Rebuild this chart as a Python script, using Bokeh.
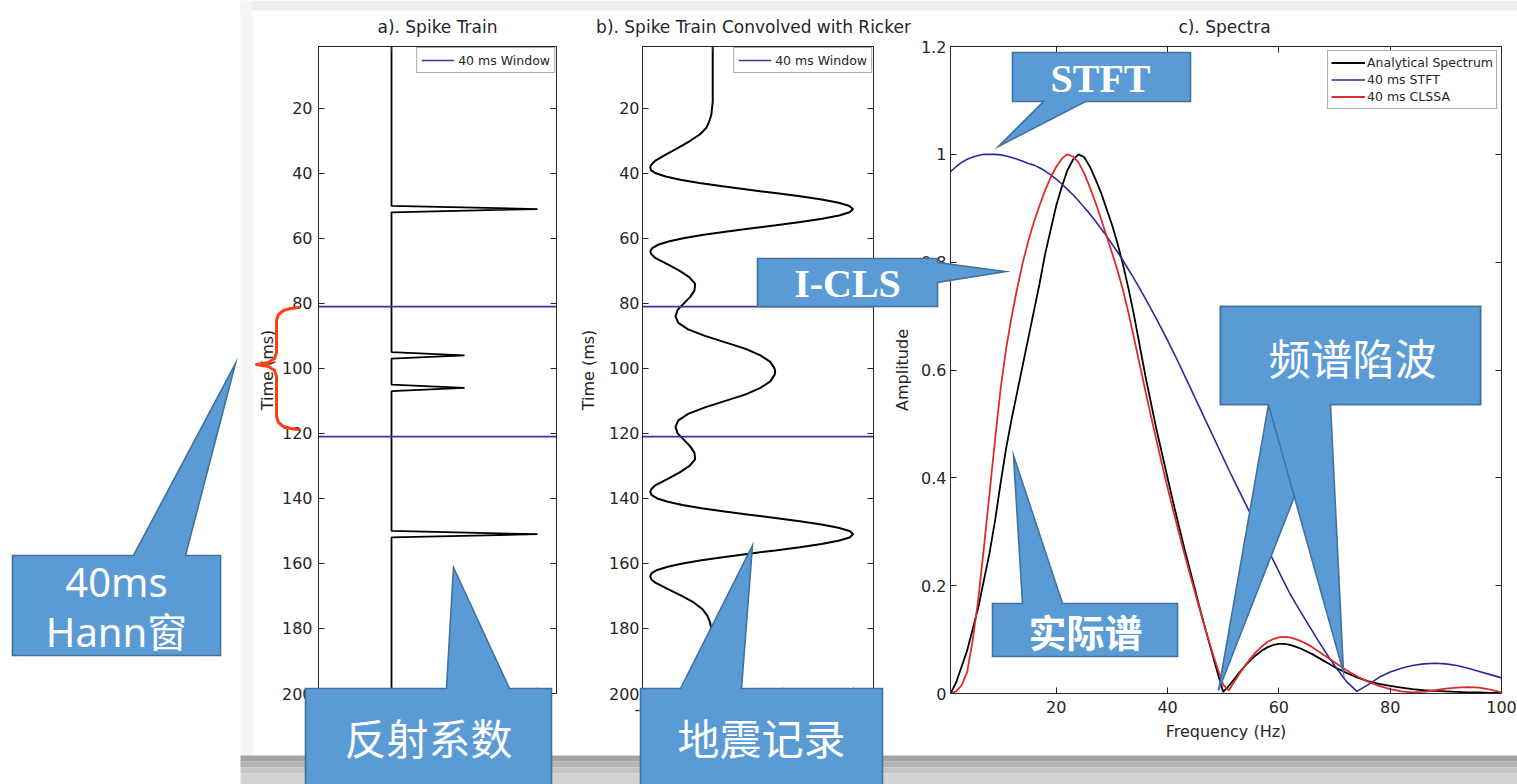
from bokeh.plotting import figure
from bokeh.layouts import row, column
from bokeh.core.properties import value
from bokeh.models import Range1d, LinearAxis, FixedTicker, Legend, LegendItem
from bokeh.embed import file_html
from bokeh.resources import INLINE

# ---------------------------------------------------------------- data
# a) reflectivity spikes (time in ms, amplitude)
spike_times_ms = [51, 96, 106, 151]
spike_amps = [2.0, 1.0, 1.0, 2.0]
record_ms = list(range(1, 201))
window_edges_ms = [81, 121]

# b) spike train convolved with a Ricker wavelet
seis_time_ms = [1, 18, 20, 22, 24, 26, 28, 30, 32, 34, 36, 37, 38, 39, 40, 41, 42, 43,
                44, 45, 46, 47, 48, 49, 50, 51, 52, 53, 54, 55, 56, 57, 58, 59, 60, 61,
                62, 63, 64, 65, 66, 68, 70, 72, 74, 76, 78, 80, 82, 84, 86, 88, 90, 92,
                94, 96, 98, 100, 101, 102, 104, 106, 108, 110, 112, 114, 116, 118, 120,
                122, 124, 126, 128, 130, 132, 134, 136, 137, 138, 139, 140, 141, 142,
                143, 144, 145, 146, 147, 148, 149, 150, 151, 152, 153, 154, 155, 156,
                157, 158, 159, 160, 161, 162, 163, 164, 165, 166, 168, 170, 172, 174,
                176, 178, 180, 182, 184, 200]
seis_amp = [0, 0, -0.01, -0.02, -0.05, -0.09, -0.18, -0.32, -0.48, -0.65, -0.81, -0.86,
            -0.89, -0.88, -0.81, -0.67, -0.46, -0.19, 0.14, 0.49, 0.86, 1.22, 1.53, 1.78,
            1.94, 2.00, 1.95, 1.80, 1.56, 1.25, 0.90, 0.53, 0.18, -0.15, -0.42, -0.63,
            -0.78, -0.86, -0.89, -0.87, -0.82, -0.64, -0.47, -0.33, -0.25, -0.26, -0.32,
            -0.41, -0.50, -0.53, -0.49, -0.35, -0.11, 0.18, 0.47, 0.68, 0.82, 0.88, 0.89,
            0.88, 0.82, 0.68, 0.47, 0.18, -0.11, -0.35, -0.49, -0.53, -0.50, -0.41, -0.32,
            -0.26, -0.25, -0.33, -0.47, -0.64, -0.82, -0.87, -0.89, -0.87, -0.79, -0.64,
            -0.43, -0.16, 0.17, 0.52, 0.89, 1.24, 1.55, 1.79, 1.95, 2.00, 1.95, 1.79, 1.55,
            1.24, 0.89, 0.52, 0.17, -0.16, -0.43, -0.64, -0.79, -0.87, -0.89, -0.87, -0.81,
            -0.63, -0.44, -0.27, -0.15, -0.08, -0.04, -0.02, -0.01, 0, 0]

# c) amplitude spectra of the 40 ms window
freq_hz = list(range(1, 71)) + list(range(72, 101, 2))
spec_analytical = [0.000, 0.020, 0.050, 0.080, 0.120, 0.160, 0.210, 0.260, 0.320, 0.390,
                   0.455, 0.510, 0.560, 0.610, 0.660, 0.710, 0.760, 0.815, 0.860, 0.905,
                   0.940, 0.970, 0.990, 1.000, 0.995, 0.978, 0.955, 0.930, 0.900, 0.870,
                   0.835, 0.795, 0.750, 0.700, 0.645, 0.590, 0.540, 0.490, 0.445, 0.400,
                   0.355, 0.312, 0.270, 0.230, 0.190, 0.150, 0.112, 0.075, 0.038, 0.003,
                   0.014, 0.027, 0.040, 0.052, 0.063, 0.072, 0.080, 0.086, 0.090, 0.092,
                   0.092, 0.090, 0.087, 0.083, 0.078, 0.073, 0.067, 0.061, 0.055, 0.049,
                   0.039, 0.030, 0.023, 0.018, 0.014, 0.011, 0.008, 0.006, 0.005, 0.004,
                   0.003, 0.002, 0.002, 0.001, 0.001]
spec_stft = [0.968, 0.977, 0.985, 0.991, 0.995, 0.998, 1.000, 1.000, 1.000, 0.999,
             0.997, 0.994, 0.991, 0.987, 0.983, 0.980, 0.975, 0.969, 0.962, 0.954,
             0.945, 0.935, 0.925, 0.914, 0.902, 0.890, 0.877, 0.863, 0.849, 0.834,
             0.819, 0.803, 0.786, 0.769, 0.751, 0.733, 0.714, 0.695, 0.675, 0.655,
             0.634, 0.613, 0.591, 0.569, 0.547, 0.525, 0.503, 0.481, 0.459, 0.437,
             0.415, 0.394, 0.373, 0.352, 0.331, 0.310, 0.289, 0.268, 0.247, 0.226,
             0.205, 0.185, 0.167, 0.150, 0.133, 0.116, 0.099, 0.083, 0.067, 0.052,
             0.024, 0.004, 0.016, 0.030, 0.040, 0.047, 0.052, 0.055, 0.056, 0.055,
             0.052, 0.047, 0.041, 0.035, 0.029]
spec_clssa = [0.000, 0.004, 0.015, 0.040, 0.100, 0.175, 0.270, 0.370, 0.470, 0.565,
              0.640, 0.700, 0.752, 0.800, 0.840, 0.875, 0.905, 0.933, 0.957, 0.977,
              0.992, 1.000, 0.996, 0.985, 0.965, 0.940, 0.912, 0.882, 0.850, 0.818,
              0.785, 0.748, 0.705, 0.658, 0.610, 0.562, 0.515, 0.470, 0.425, 0.382,
              0.340, 0.300, 0.260, 0.222, 0.185, 0.148, 0.112, 0.078, 0.046, 0.016,
              0.006, 0.022, 0.038, 0.053, 0.066, 0.078, 0.088, 0.096, 0.101, 0.104,
              0.105, 0.104, 0.101, 0.097, 0.092, 0.086, 0.079, 0.072, 0.065, 0.058,
              0.044, 0.032, 0.022, 0.014, 0.008, 0.004, 0.002, 0.003, 0.006, 0.009,
              0.011, 0.012, 0.011, 0.007, 0.002]
spec_labels = ["Analytical Spectrum", "40 ms STFT", "40 ms CLSSA"]

time_ticks = [20, 40, 60, 80, 100, 120, 140, 160, 180, 200]
trace_ticks = [-1, 0, 1, 2]
freq_ticks = [20, 40, 60, 80, 100]
amp_ticks = [0, 0.2, 0.4, 0.6, 0.8, 1.0, 1.2]

panel_titles = ["a). Spike Train", "b). Spike Train Convolved with Ricker", "c). Spectra"]

# ---------------------------------------------------------------- style
W, H = 1517, 784
INK = "#262626"
FONT = "DejaVu Sans"
WIN_COLOR = "#3B35A3"
STFT_COLOR = "#2A2A9E"
CLSSA_COLOR = "#E02A2A"
CALLOUT_FILL = "#5B9BD5"
CALLOUT_EDGE = "#41719C"
BRACE_COLOR = "#FF3D12"
CJK = "Noto Sans CJK SC"
SERIF = "Liberation Serif"

W_A, W_B, W_C = 575, 315, 627


def make_panel(width, borders, x_range, y_range):
    left, right, top, bottom = borders
    p = figure(width=width, height=H, x_range=x_range, y_range=y_range, title=None,
               output_backend="svg", toolbar_location=None,
               min_border_left=left, min_border_right=right,
               min_border_top=top, min_border_bottom=bottom,
               background_fill_color="white", border_fill_color="white",
               outline_line_color=INK, outline_line_width=1)
    p.xgrid.visible = False
    p.ygrid.visible = False
    p.add_layout(LinearAxis(), "above")
    p.add_layout(LinearAxis(), "right")
    return p


def style_axis(ax, ticks, labels, standoff=5, label_standoff=8, overrides=None):
    ax.ticker = FixedTicker(ticks=ticks)
    ax.major_tick_in = 6
    ax.major_tick_out = 0
    ax.minor_tick_line_color = None
    ax.axis_line_color = INK
    ax.major_tick_line_color = INK
    ax.major_label_text_font = FONT
    if labels:
        ax.major_label_text_font_size = "16px"
        ax.major_label_text_color = INK
        ax.major_label_standoff = standoff
    else:
        ax.major_label_text_font_size = "0px"
        ax.major_label_text_color = None
        ax.major_label_standoff = 0
    if overrides:
        ax.major_label_overrides = overrides
    ax.axis_label_text_font = FONT
    ax.axis_label_text_font_size = "16px"
    ax.axis_label_text_font_style = "normal"
    ax.axis_label_text_color = INK
    ax.axis_label_standoff = label_standoff


def style_legend(leg, margin):
    leg.location = "top_right"
    leg.margin = margin
    leg.padding = 4
    leg.spacing = 0
    leg.glyph_width = 33
    leg.glyph_height = 16
    leg.label_height = 16
    leg.label_standoff = 4
    leg.label_text_font = FONT
    leg.label_text_font_size = "12.5px"
    leg.label_text_color = INK
    leg.border_line_color = "#555555"
    leg.border_line_width = 1
    leg.background_fill_color = "white"
    leg.background_fill_alpha = 1


hyphen_labels = {-1: "-1"}

# ---------------------------------------------------------------- panel a
xa = Range1d(-1, 2.26)
pa = make_panel(W_A, (318, 19, 44, 91), xa, Range1d(200, 1))
style_axis(pa.below[0], trace_ticks, True, standoff=9, overrides=hyphen_labels)
style_axis(pa.left[0], time_ticks, True, standoff=6, label_standoff=2)
style_axis(pa.above[0], trace_ticks, False)
style_axis(pa.right[0], time_ticks, False)
pa.left[0].axis_label = "Time (ms)"

spike_lookup = dict(zip(spike_times_ms, spike_amps))
refl_amp = [spike_lookup.get(t, 0.0) for t in record_ms]
pa.line(refl_amp, record_ms, line_color="black", line_width=1.8)
win_a = pa.multi_line(xs=[[xa.start, xa.end] for _ in window_edges_ms],
                      ys=[[e, e] for e in window_edges_ms],
                      line_color=WIN_COLOR, line_width=1.6)
leg_a = Legend(items=[LegendItem(label="40 ms Window", renderers=[win_a])])
style_legend(leg_a, 1)
pa.add_layout(leg_a)

# ---------------------------------------------------------------- panel b
xb = Range1d(-1, 2.29)
pb = make_panel(W_B, (58, 17, 44, 91), xb, Range1d(200, 1))
style_axis(pb.below[0], trace_ticks, True, standoff=9, overrides=hyphen_labels)
style_axis(pb.left[0], time_ticks, True, standoff=3, label_standoff=8)
style_axis(pb.above[0], trace_ticks, False)
style_axis(pb.right[0], time_ticks, False)
pb.left[0].axis_label = "Time (ms)"

n_b = min(len(seis_time_ms), len(seis_amp))
pb.line(seis_amp[:n_b], seis_time_ms[:n_b], line_color="black", line_width=2)
win_b = pb.multi_line(xs=[[xb.start, xb.end] for _ in window_edges_ms],
                      ys=[[e, e] for e in window_edges_ms],
                      line_color=WIN_COLOR, line_width=1.6)
leg_b = Legend(items=[LegendItem(label="40 ms Window", renderers=[win_b])])
style_legend(leg_b, 1)
pb.add_layout(leg_b)

# ---------------------------------------------------------------- panel c
pc = make_panel(W_C, (58, 16, 46, 89), Range1d(1, 100), Range1d(0, 1.2))
style_axis(pc.below[0], freq_ticks, True, standoff=7, label_standoff=6)
style_axis(pc.left[0], amp_ticks, True, standoff=4, label_standoff=6,
           overrides={0: "0", 1: "1"})
style_axis(pc.above[0], freq_ticks, False)
style_axis(pc.right[0], amp_ticks, False)
pc.below[0].axis_label = "Frequency (Hz)"
pc.left[0].axis_label = "Amplitude"

n_c = len(freq_hz)
r_an = pc.line(freq_hz, spec_analytical[:n_c], line_color="black", line_width=1.8)
r_st = pc.line(freq_hz, spec_stft[:n_c], line_color=STFT_COLOR, line_width=1.6)
r_cl = pc.line(freq_hz, spec_clssa[:n_c], line_color=CLSSA_COLOR, line_width=1.8)
leg_c = Legend(items=[LegendItem(label=lab, renderers=[r])
                      for lab, r in zip(spec_labels, [r_an, r_st, r_cl])])
style_legend(leg_c, 4)
leg_c.padding = 3
leg_c.label_height = 17
leg_c.glyph_height = 17
leg_c.glyph_width = 34
leg_c.label_standoff = 2
pc.add_layout(leg_c)

# ---------------------------------------------------------------- overlay
# A transparent page-sized figure laid over the three panels; its ranges are
# in page pixels (y downwards) and it carries titles, page shading and callouts.
ov = figure(width=W, height=H, x_range=Range1d(0, W), y_range=Range1d(H, 0),
            title=None, output_backend="svg", toolbar_location=None,
            x_axis_type=None, y_axis_type=None, min_border=0,
            background_fill_alpha=0, border_fill_alpha=0, outline_line_color=None)
ov.styles = {"margin-top": f"-{H}px", "position": "relative", "z-index": "5",
             "pointer-events": "none"}

# page shading around the slide
bands = [(240, 1517, 0, 10, "#EFEFEF"), (240, 252, 0, 755, "#F5F5F5"),
         (240, 1517, 755, 761, "#A2A2A2"), (240, 1517, 761, 767, "#B3B3B3"),
         (240, 1517, 767, 773, "#C4C4C4"), (240, 1517, 773, 784, "#D3D3D3")]
ov.quad(left=[b[0] for b in bands], right=[b[1] for b in bands],
        top=[b[2] for b in bands], bottom=[b[3] for b in bands],
        fill_color=[b[4] for b in bands], line_color=None)

# panel titles centred over each frame
ov.text(x=[437, 753, 1224], y=[26, 26, 26], text=panel_titles,
        text_align="center", text_baseline="middle", text_font=value(FONT),
        text_font_size="17px", text_color=INK)


def callout(pts):
    ov.patch([x for x, _ in pts], [y for _, y in pts], fill_color=CALLOUT_FILL,
             line_color=CALLOUT_EDGE, line_width=1.6, line_join="miter")


def label(x, y, s, font, size, bold=False):
    ov.text(x=[x], y=[y], text=[s], text_align="center", text_baseline="middle",
            text_font=value(font), text_font_size=size,
            text_font_style="bold" if bold else "normal", text_color="white")


# brace marking the analysis window next to panel a
brace = [(298, 307), (290, 308), (283, 310), (278, 314), (276, 320), (276, 352),
         (274, 358), (268, 362), (256, 364), (268, 366), (274, 370), (276, 376),
         (276, 416), (278, 422), (283, 426), (290, 428), (298, 429)]
ov.line([x for x, _ in brace], [y for _, y in brace], line_color=BRACE_COLOR,
        line_width=3, line_join="round", line_cap="round")

callout([(12, 555), (133, 555), (235, 363), (185, 555), (220, 555), (220, 655), (12, 655)])
label(116, 581, "40ms", "Noto Sans, Noto Sans CJK SC", "40px")
label(116, 631, "Hann窗", "Noto Sans, Noto Sans CJK SC", "40px")

callout([(305, 688), (446, 688), (453, 567), (509, 688), (551, 688), (551, 790), (305, 790)])
label(428, 736, "反射系数", CJK, "42px")

callout([(640, 688), (680, 688), (752, 545), (741, 688), (882, 688), (882, 790), (640, 790)])
label(761, 736, "地震记录", CJK, "42px")

callout([(757, 258), (937, 258), (937, 262), (1005, 271), (937, 282), (937, 306), (757, 306)])
label(847, 283, "I-CLS", SERIF, "40px", bold=True)

callout([(1012, 52), (1190, 52), (1190, 101), (1085, 101), (998, 146), (1043, 101), (1012, 101)])
label(1100, 78, "STFT", SERIF, "40px", bold=True)

notch_rect = [(1220, 306), (1480, 306), (1480, 404)]
callout(notch_rect + [(1330, 404), (1218, 690), (1268, 404), (1220, 404)])
callout(notch_rect + [(1330, 404), (1343, 672), (1268, 404), (1220, 404)])
label(1352, 356, "频谱陷波", CJK, "42px")

callout([(992, 603), (1022, 603), (1013, 455), (1062, 603), (1177, 603), (1177, 656), (992, 656)])
label(1085, 630, "实际谱", CJK, "38px", bold=True)

layout = column(row(pa, pb, pc, spacing=0), ov, spacing=0)
open("out.html", "w").write(file_html(layout, INLINE))
